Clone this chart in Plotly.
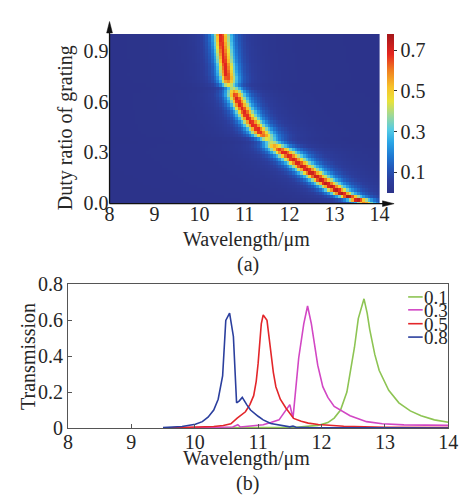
import numpy as np
import plotly.graph_objects as go

W, H = 468, 503


def px(x):
    return x / W


def py(y):
    return 1 - y / H


# ---------------- (a) heatmap: transmission ridge ----------------
duty = [0.00, 0.02, 0.04, 0.06, 0.08, 0.10, 0.12, 0.14, 0.16, 0.18,
        0.20, 0.22, 0.24, 0.26, 0.28, 0.30, 0.32, 0.34, 0.36, 0.38,
        0.40, 0.42, 0.44, 0.46, 0.48, 0.50, 0.52, 0.54, 0.56, 0.58,
        0.60, 0.62, 0.64, 0.66, 0.68, 0.70, 0.72, 0.74, 0.76, 0.78,
        0.80, 0.82, 0.84, 0.86, 0.88, 0.90, 0.92, 0.94, 0.96, 0.98, 1.00]
ridge_wl = [13.65, 13.50, 13.30, 13.14, 13.02, 12.91, 12.80, 12.69, 12.58, 12.47,
            12.37, 12.27, 12.17, 12.07, 11.97, 11.87, 11.77, 11.66, 11.60, 11.49,
            11.40, 11.33, 11.27, 11.20, 11.14, 11.08, 11.03, 10.99, 10.94, 10.89,
            10.85, 10.82, 10.78, 10.76, 10.74, 10.64, 10.62, 10.61, 10.59, 10.58,
            10.57, 10.56, 10.54, 10.53, 10.52, 10.51, 10.50, 10.49, 10.48, 10.48, 10.47]
ridge_peak = [0.60, 0.74, 0.77, 0.76, 0.75, 0.74, 0.74, 0.73, 0.73, 0.73,
              0.72, 0.72, 0.71, 0.71, 0.70, 0.70, 0.66, 0.55, 0.42, 0.45,
              0.62, 0.68, 0.69, 0.69, 0.69, 0.69, 0.69, 0.69, 0.69, 0.69,
              0.69, 0.69, 0.66, 0.56, 0.42, 0.46, 0.60, 0.66, 0.69, 0.69,
              0.69, 0.69, 0.69, 0.69, 0.69, 0.69, 0.69, 0.69, 0.69, 0.69, 0.69]
width_duty = [0.0, 0.1, 0.2, 0.3, 0.4, 0.5, 0.6, 0.7, 0.8, 0.9, 1.0]
width_left = [0.16, 0.19, 0.20, 0.20, 0.18, 0.165, 0.155, 0.15, 0.14, 0.14, 0.14]
width_right = [0.20, 0.25, 0.26, 0.26, 0.23, 0.21, 0.20, 0.19, 0.18, 0.18, 0.18]
wl_grid = np.round(np.arange(8.0, 14.0001, 0.06), 3)

d_arr = np.array(duty)
gl = np.interp(d_arr, width_duty, width_left)[:, None]
gr = np.interp(d_arr, width_duty, width_right)[:, None]
dx = wl_grid[None, :] - np.array(ridge_wl)[:, None]
gam = np.where(dx < 0, gl, gr)
z = np.array(ridge_peak)[:, None] / (1 + (dx / gam) ** 2)

cmax = 0.78
stops = [(0.00, '#2c338a'), (0.06, '#2c3d9c'), (0.12, '#2356b8'), (0.18, '#1f78d2'),
         (0.25, '#2aa6e6'), (0.31, '#55cbe4'), (0.38, '#9ed898'), (0.45, '#e8e23a'),
         (0.52, '#f7c22a'), (0.60, '#f08020'), (0.68, '#e5261f'), (0.78, '#a4161a')]
colorscale = [[v / cmax, c] for v, c in stops]

# ---------------- (b) transmission spectra ----------------
series_names = ['0.1', '0.3', '0.5', '0.8']
series_colors = ['#8dc453', '#d247c4', '#e3262a', '#2b3f9e']

wl_01 = [9.5, 11.6, 11.94, 12.1, 12.2, 12.3, 12.4, 12.45, 12.52, 12.58, 12.62, 12.67,
         12.72, 12.76, 12.84, 12.91, 13.06, 13.22, 13.4, 13.57, 13.78, 14.0]
t_01 = [0.0, 0.003, 0.014, 0.03, 0.055, 0.10, 0.20, 0.30, 0.45, 0.61, 0.66, 0.72,
        0.64, 0.55, 0.41, 0.32, 0.21, 0.14, 0.095, 0.068, 0.045, 0.032]

wl_03 = [9.5, 10.6, 10.68, 10.72, 10.8, 11.08, 11.2, 11.33, 11.43, 11.5, 11.55, 11.6,
         11.64, 11.72, 11.78, 11.84, 11.89, 11.94, 12.02, 12.1, 12.2, 12.45, 12.71,
         12.96, 13.3, 13.62, 14.0]
t_03 = [0.0, 0.005, 0.018, 0.005, 0.008, 0.018, 0.03, 0.045, 0.095, 0.13, 0.055, 0.22,
        0.39, 0.58, 0.68, 0.58, 0.46, 0.35, 0.23, 0.17, 0.12, 0.068, 0.035,
        0.023, 0.017, 0.014, 0.014]

wl_05 = [9.5, 10.06, 10.3, 10.45, 10.57, 10.67, 10.72, 10.8, 10.87, 10.93, 10.97, 11.0,
         11.05, 11.08, 11.14, 11.2, 11.24, 11.28, 11.35, 11.44, 11.56, 11.68, 11.79,
         11.95, 12.1, 12.35, 13.0, 14.0]
t_05 = [0.0, 0.003, 0.008, 0.014, 0.023, 0.055, 0.068, 0.09, 0.13, 0.18, 0.26, 0.36,
        0.58, 0.63, 0.60, 0.41, 0.31, 0.23, 0.16, 0.11, 0.053, 0.037, 0.027,
        0.019, 0.014, 0.009, 0.004, 0.002]

wl_08 = [9.5, 9.8, 10.01, 10.12, 10.21, 10.30, 10.37, 10.44, 10.49, 10.55, 10.61, 10.66,
         10.70, 10.75, 10.82, 10.88, 11.0, 11.08, 11.2, 11.33, 11.5, 11.55, 11.6, 11.8, 14.0]
t_08 = [0.002, 0.008, 0.02, 0.035, 0.06, 0.10, 0.16, 0.29, 0.60, 0.64, 0.51, 0.14,
        0.15, 0.17, 0.13, 0.10, 0.065, 0.045, 0.025, 0.015, 0.006, 0.01, 0.004, 0.002, 0.0]

series_wl = [wl_01, wl_03, wl_05, wl_08]
series_t = [t_01, t_03, t_05, t_08]

top_xticks = [8, 9, 10, 11, 12, 13, 14]
top_yticks = [0.0, 0.3, 0.6, 0.9]
top_yticktext = ['0.0', '0.3', '0.6', '0.9']
cb_ticks = [0.1, 0.3, 0.5, 0.7]
cb_ticktext = ['0.1', '0.3', '0.5', '0.7']
bot_xticks = [8, 9, 10, 11, 12, 13, 14]
bot_yticks = [0, 0.2, 0.4, 0.6, 0.8]
bot_yticktext = ['0', '0.2', '0.4', '0.6', '0.8']

FONT = 'Liberation Serif, Times New Roman, serif'
TXT = '#262626'

fig = go.Figure()

fig.add_trace(go.Heatmap(
    x=wl_grid, y=duty, z=z, zmin=0, zmax=cmax, colorscale=colorscale,
    xaxis='x', yaxis='y', zsmooth=False,
    colorbar=dict(
        x=px(395), xanchor='left', y=py(107), yanchor='middle',
        len=159, lenmode='pixels', thickness=7, xpad=0, ypad=0,
        title=dict(text='', side='right'),
        outlinewidth=0, tickvals=cb_ticks, ticktext=cb_ticktext,
        ticks='outside', ticklen=3, tickcolor='#333', tickwidth=1,
        tickfont=dict(family=FONT, size=20, color=TXT),
    ),
))

for name, col, xs, ys in zip(series_names, series_colors, series_wl, series_t):
    fig.add_trace(go.Scatter(x=xs, y=ys, mode='lines', name=name,
                             line=dict(color=col, width=1.6),
                             xaxis='x2', yaxis='y2', showlegend=False))

shapes = []
# axis lines with arrows for (a)
shapes.append(dict(type='line', xref='paper', yref='paper',
                   x0=px(108), x1=px(108), y0=py(201.5), y1=py(18),
                   line=dict(color='#111', width=1.3)))
shapes.append(dict(type='path', xref='paper', yref='paper',
                   path=f'M {px(108)} {py(11)} L {px(105)} {py(23)} L {px(111)} {py(23)} Z',
                   fillcolor='#111', line=dict(color='#111', width=0.5)))
shapes.append(dict(type='line', xref='paper', yref='paper',
                   x0=px(108), x1=px(396), y0=py(201.5), y1=py(201.5),
                   line=dict(color='#111', width=1.3)))
shapes.append(dict(type='path', xref='paper', yref='paper',
                   path=f'M {px(402)} {py(201.5)} L {px(390)} {py(198.5)} L {px(390)} {py(204.5)} Z',
                   fillcolor='#111', line=dict(color='#111', width=0.5)))

# manual legend for (b)
legend_rows = [299, 312.5, 327, 341]
annotations = []
for name, col, ry in zip(series_names, series_colors, legend_rows):
    shapes.append(dict(type='line', xref='paper', yref='paper',
                       x0=px(416.5), x1=px(431.5), y0=py(ry), y1=py(ry),
                       line=dict(color=col, width=1.6)))
    annotations.append(dict(text=name, xref='paper', yref='paper', x=px(431), y=py(ry + 0.5),
                            xanchor='left', yanchor='middle', showarrow=False,
                            font=dict(family=FONT, size=19, color=TXT)))


def label(text, x, y, angle=0):
    annotations.append(dict(text=text, xref='paper', yref='paper', x=px(x), y=py(y),
                            xanchor='center', yanchor='middle', showarrow=False, textangle=angle,
                            font=dict(family=FONT, size=20, color=TXT)))


label('Duty ratio of grating', 62.5, 122, -90)
label('Wavelength/μm', 250, 239)
label('(a)', 251, 265)
label('Transmission', 23.5, 361, -90)
label('Wavelength/μm', 250, 468)
label('(b)', 251, 494)

tickfont = dict(family=FONT, size=20, color=TXT)

fig.update_layout(
    width=W, height=H, margin=dict(l=0, r=0, t=0, b=0),
    paper_bgcolor='white', plot_bgcolor='white',
    showlegend=False,
    shapes=shapes, annotations=annotations,
    xaxis=dict(domain=[px(108), px(387)], anchor='y', range=[8, 14],
               tickvals=top_xticks, ticks='', showgrid=False, zeroline=False,
               showline=False, tickfont=tickfont, ticklabelstandoff=-3),
    yaxis=dict(domain=[py(201), py(24)], anchor='x', range=[0, 1.0],
               tickvals=top_yticks, ticktext=top_yticktext, ticks='', showgrid=False,
               zeroline=False, showline=False, tickfont=tickfont),
    xaxis2=dict(domain=[px(65), px(458)], anchor='y2', range=[8, 14],
                tickvals=bot_xticks, ticks='inside', ticklen=4, tickcolor='#555',
                showgrid=False, zeroline=False, showline=True, mirror=True,
                linecolor='#555', linewidth=1, tickfont=tickfont, ticklabelstandoff=-4),
    yaxis2=dict(domain=[py(436), py(286)], anchor='x2', range=[0, 0.8],
                tickvals=bot_yticks, ticktext=bot_yticktext, ticks='inside', ticklen=4,
                tickcolor='#555', showgrid=False, zeroline=False, showline=True,
                mirror=True, linecolor='#555', linewidth=1, tickfont=tickfont),
)

fig.write_html('out.html', config={'displayModeBar': False},
               post_script="document.body.style.margin='0';document.body.style.overflow='hidden';")
